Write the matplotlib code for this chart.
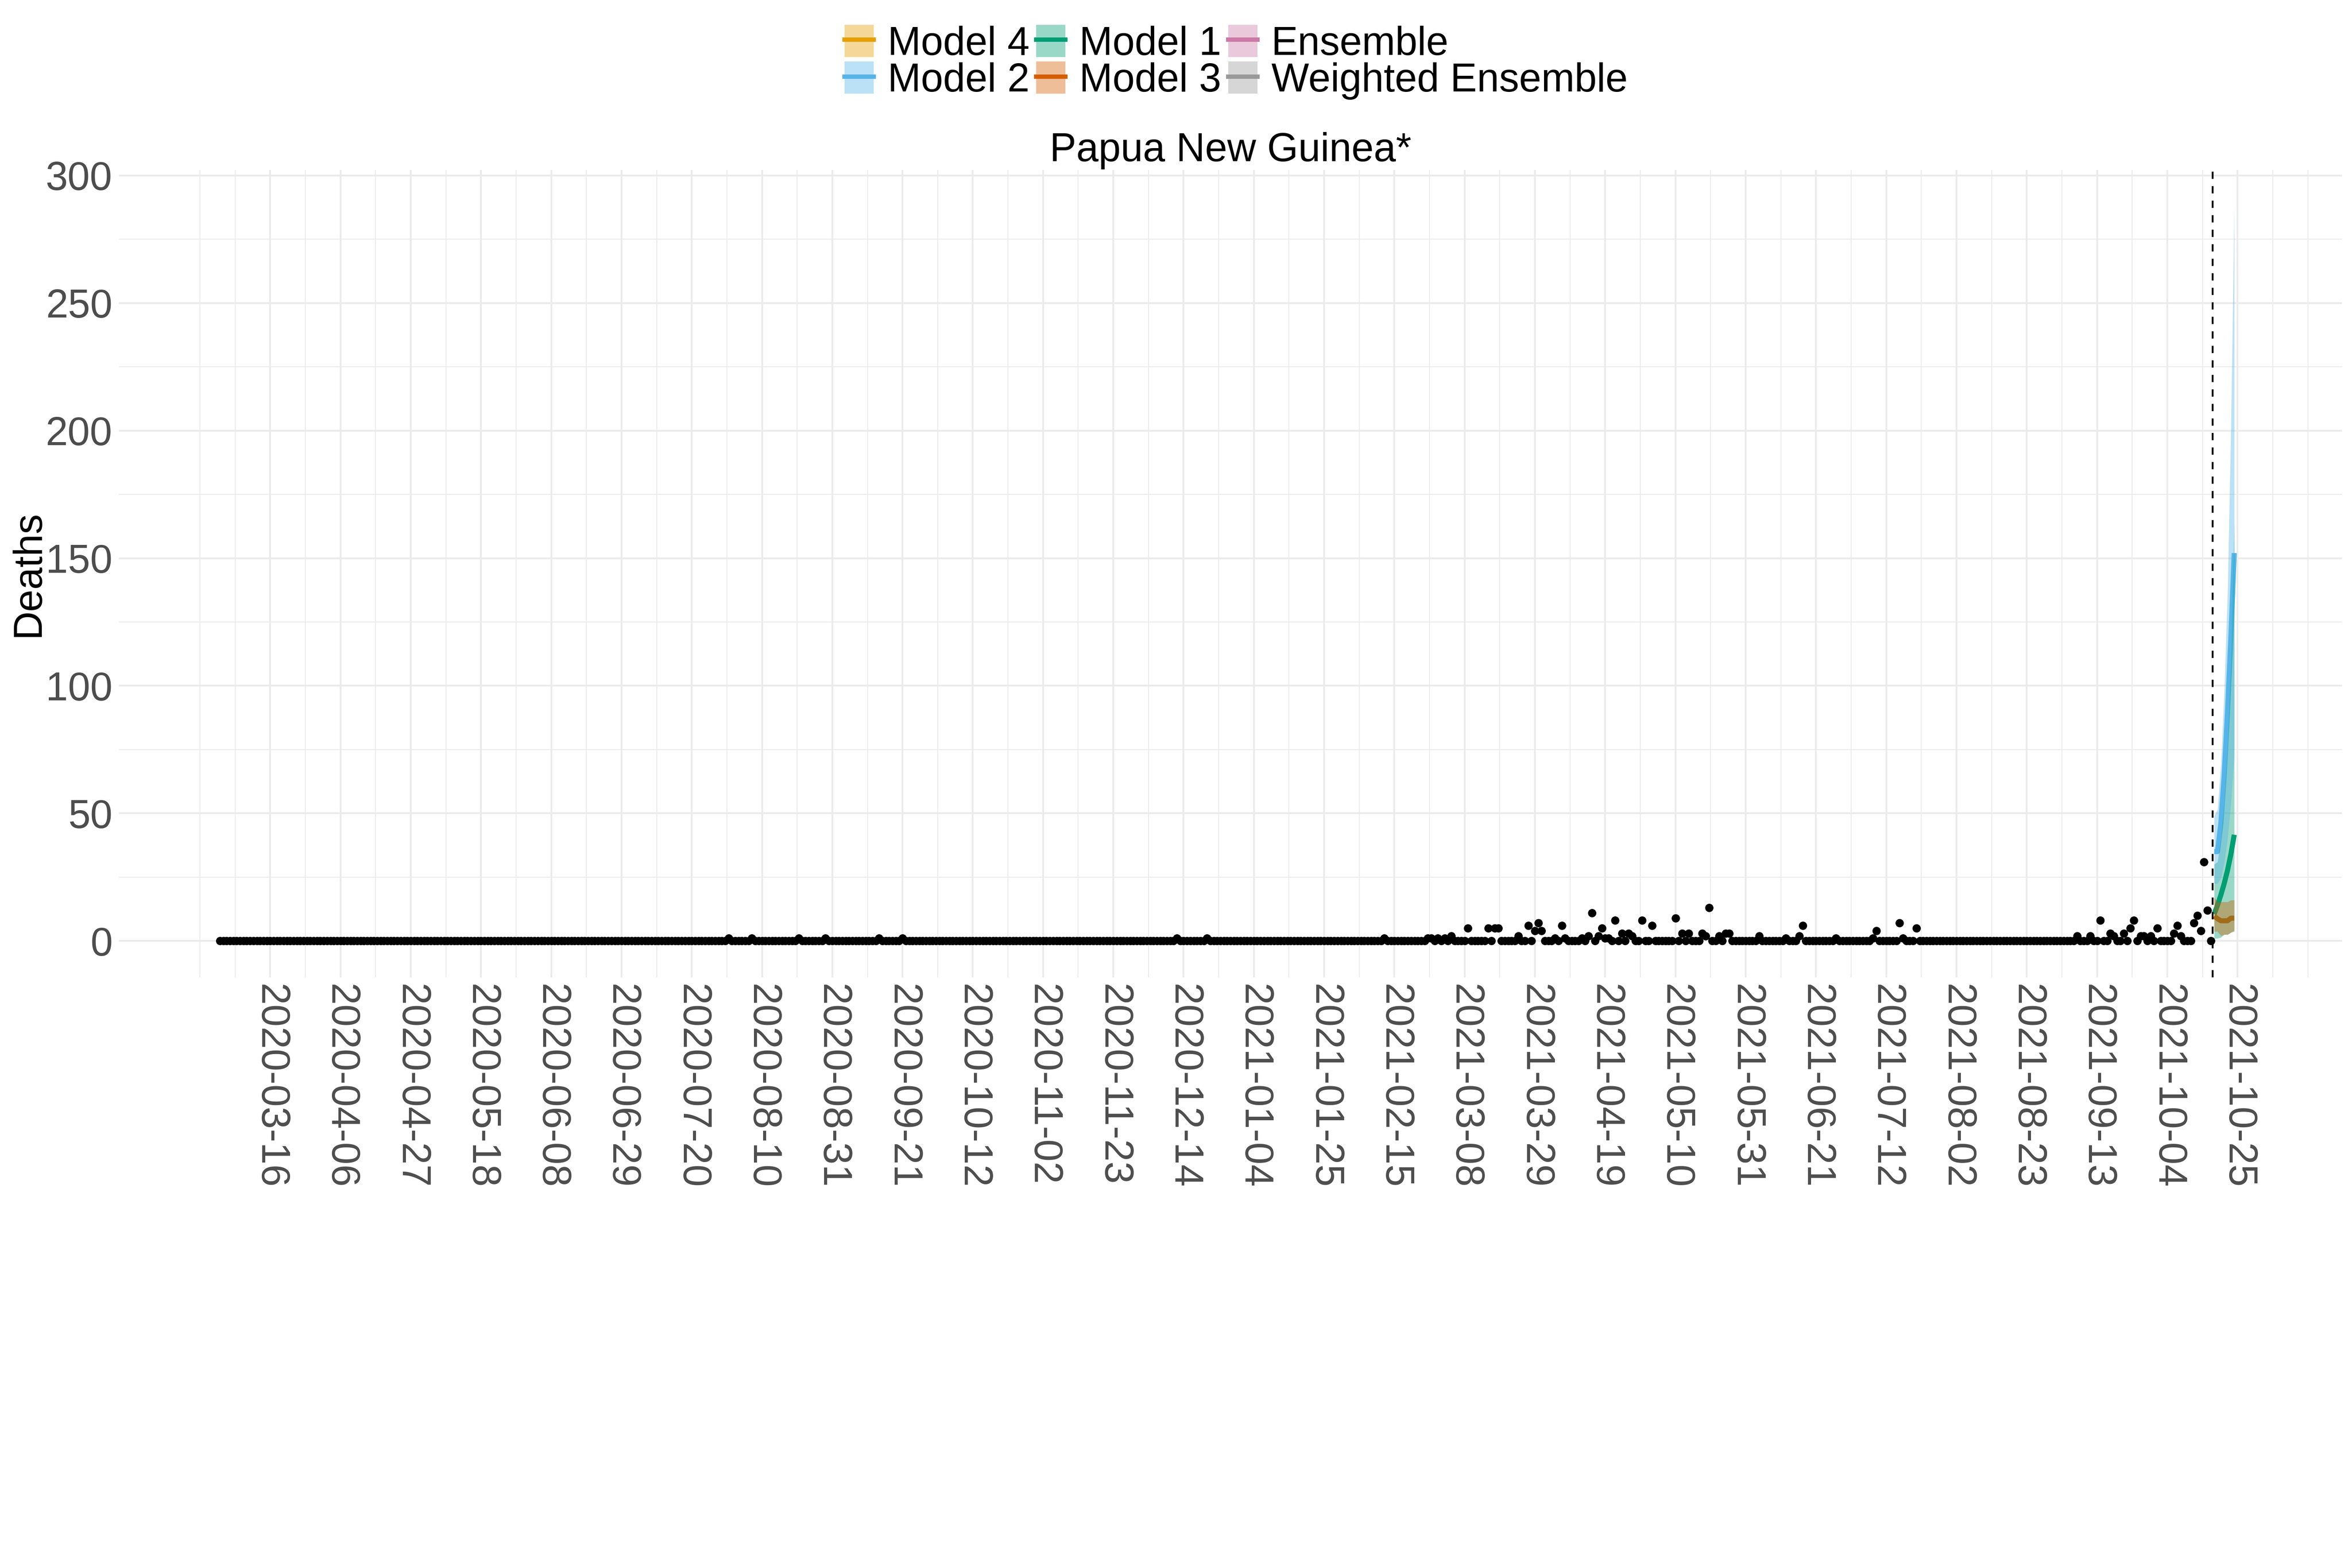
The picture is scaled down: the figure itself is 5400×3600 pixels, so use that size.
import matplotlib
matplotlib.use('Agg')
import matplotlib.pyplot as plt
import matplotlib.dates as mdates
from matplotlib.patches import Patch
from matplotlib.lines import Line2D
from matplotlib.legend_handler import HandlerTuple
from matplotlib.ticker import MultipleLocator, FixedLocator
import pandas as pd

plt.rcParams['font.family'] = ['Liberation Sans', 'DejaVu Sans']

# observed daily deaths: zero on every day except the ones listed
obs_start = '2020-03-01'
obs_end = '2021-10-17'
nonzero_dates = [
    '2020-07-31', '2020-08-07', '2020-08-21', '2020-08-29', '2020-09-14', '2020-09-21',
    '2020-12-12', '2020-12-21',
    '2021-02-12', '2021-02-25', '2021-02-26', '2021-02-28', '2021-03-02', '2021-03-04',
    '2021-03-09', '2021-03-15', '2021-03-17', '2021-03-18', '2021-03-24', '2021-03-27',
    '2021-03-29', '2021-03-30', '2021-03-31', '2021-04-04', '2021-04-06', '2021-04-07',
    '2021-04-12', '2021-04-14', '2021-04-15', '2021-04-17', '2021-04-18', '2021-04-19',
    '2021-04-20', '2021-04-22', '2021-04-24', '2021-04-26', '2021-04-27', '2021-04-30',
    '2021-05-03', '2021-05-10', '2021-05-12', '2021-05-14', '2021-05-18', '2021-05-19',
    '2021-05-20', '2021-05-23', '2021-05-25', '2021-05-26', '2021-06-04', '2021-06-12',
    '2021-06-16', '2021-06-17', '2021-06-27', '2021-07-08', '2021-07-09', '2021-07-16',
    '2021-07-17', '2021-07-21', '2021-09-07', '2021-09-11', '2021-09-14', '2021-09-17',
    '2021-09-18', '2021-09-21', '2021-09-23', '2021-09-24', '2021-09-26', '2021-09-27',
    '2021-09-29', '2021-10-01', '2021-10-06', '2021-10-07', '2021-10-08', '2021-10-12',
    '2021-10-13', '2021-10-14', '2021-10-15', '2021-10-16',
]
nonzero_deaths = [
    1, 1, 1, 1, 1, 1,
    1, 1,
    1, 1, 1, 1, 1, 2,
    5, 5, 5, 5, 2, 6,
    4, 7, 4, 1, 6, 1,
    1, 2, 11, 2, 5, 1,
    1, 8, 3, 3, 2, 8,
    6, 9, 3, 3, 3, 2,
    13, 2, 3, 3, 2, 1,
    2, 6, 1, 1, 4, 7,
    1, 5, 2, 2, 8, 3,
    2, 3, 5, 8, 2, 2,
    2, 5, 3, 6, 2, 7,
    10, 4, 31, 12,
]

# forecasts
fc_start = '2021-10-18'
fc_end = '2021-10-24'
m1_med = [10.5, 14, 18, 22.5, 27.7, 34, 41.6]
m1_lo = [1, 1, 1.4, 2.5, 2.5, 3.3, 3.7]
m1_hi = [30, 31, 40, 54.6, 77, 110, 164]
m2_med = [35, 35, 46, 65, 90, 119, 152]
m2_lo = [22.5, 22.5, 24.6, 30.8, 40, 54, 73]
m2_hi = [49, 51.5, 69, 98, 137, 201, 288]
m3_med = [9.7, 8.7, 7.9, 7.9, 7.9, 8.9, 8.9]
m3_lo = [3.7, 3.7, 2, 2.5, 2.5, 3.3, 4.1]
m3_hi = [17, 15.3, 15.3, 15.3, 15.3, 16, 16]

colors = {
    'Model 1': '#009E73', 'Model 2': '#56B4E9', 'Model 3': '#D55E00',
    'Model 4': '#E69F00', 'Ensemble': '#CC79A7', 'Weighted Ensemble': '#999999',
}

obs = pd.Series(0, index=pd.date_range(obs_start, obs_end))
obs[pd.to_datetime(nonzero_dates)] = nonzero_deaths
fc_days = pd.date_range(fc_start, fc_end)
forecasts = [('Model 1', m1_med, m1_lo, m1_hi),
             ('Model 2', m2_med, m2_lo, m2_hi),
             ('Model 3', m3_med, m3_lo, m3_hi)]

fig = plt.figure(figsize=(18, 12), dpi=300)
ax = fig.add_axes([0.05056, 0.37667, 0.94518, 0.515])

ax.scatter(obs.index, obs.values, s=21, color='black', linewidths=0, zorder=3)

# lines sit under the ribbons, as in the original
for name, med, lo, hi in forecasts:
    ax.plot(fc_days, med, color=colors[name], lw=2.8, zorder=4, solid_capstyle='butt')
for name, med, lo, hi in forecasts:
    ax.fill_between(fc_days, lo, hi, color=colors[name], alpha=0.4, lw=0, zorder=5)

ax.axvline(pd.Timestamp('2021-10-17 12:00'), color='black', lw=1.0,
           linestyle=(0, (4, 4)), zorder=6)

anchor = pd.Timestamp('2020-03-16')
ax.set_xlim(anchor + pd.Timedelta(days=-45.2), anchor + pd.Timedelta(days=619.2))
ax.set_ylim(-14.3, 302.2)

major = pd.date_range('2020-03-16', '2021-10-25', freq='21D')
minor = pd.date_range('2020-02-24', periods=61, freq='252h')
ax.xaxis.set_major_locator(FixedLocator(mdates.date2num(major)))
ax.xaxis.set_minor_locator(FixedLocator(mdates.date2num(minor)))
ax.xaxis.set_major_formatter(mdates.DateFormatter('%Y-%m-%d'))
ax.yaxis.set_major_locator(MultipleLocator(50))
ax.yaxis.set_minor_locator(MultipleLocator(25))

ax.tick_params(which='both', length=0)
ax.tick_params(axis='both', labelsize=22, labelcolor='#4D4D4D', pad=3.6)
ax.tick_params(axis='x', labelrotation=-90)
ax.grid(which='major', color='#EBEBEB', lw=1.0)
ax.grid(which='minor', color='#EBEBEB', lw=0.5)
ax.set_axisbelow(True)
for s in ax.spines.values():
    s.set_visible(False)

ax.set_ylabel('Deaths', fontsize=22, va='center')
ax.yaxis.set_label_coords(-0.0406, 0.5)
ax.set_title('Papua New Guinea*', fontsize=22, pad=4.8)

order = ['Model 4', 'Model 2', 'Model 1', 'Model 3', 'Ensemble', 'Weighted Ensemble']
handles = [(Patch(facecolor=colors[n], alpha=0.4, lw=0),
            Line2D([], [], color=colors[n], lw=2.4)) for n in order]
fig.legend(handles, order, ncol=3, loc='upper center',
           bbox_to_anchor=(2838 / 5400, 1 - 57 / 3600), frameon=False, fontsize=22,
           handler_map={tuple: HandlerTuple(ndivide=1, pad=0)},
           handlelength=0.73, handleheight=0.87, handletextpad=0.35,
           columnspacing=0.17, labelspacing=-0.04, borderpad=0, borderaxespad=0)

fig.savefig('out.png', dpi=300)
